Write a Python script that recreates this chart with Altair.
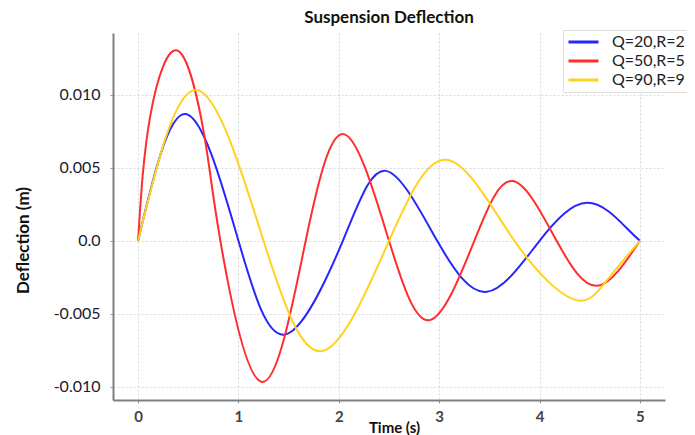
import altair as alt
import pandas as pd

title_text = "Suspension Deflection"
x_title = "Time (s)"
y_title = "Deflection (m)"
series_names = ["Q=20,R=2", "Q=50,R=5", "Q=90,R=9"]
series_colors = ["#2626ff", "#ff2d2d", "#ffd21e"]

blue_t = [0, 0.475, 1.0, 1.466, 2.04, 2.47, 2.98, 3.476, 4.0, 4.473, 4.855, 5.0]
blue_v = [0, 0.00868, 0, -0.00641, 0, 0.00479, 0, -0.00349, 0, 0.0026, 0.00096, 0]

red_t = [0, 0.12, 0.40, 0.66, 0.82, 1.233, 1.67, 2.057, 2.50, 2.905, 3.35, 3.735,
         4.17, 4.573, 5.0]
red_v = [0, 0.0085, 0.01300, 0.0072, 0, -0.00966, 0, 0.00729, 0, -0.00543, 0, 0.00409,
         0, -0.00308, 0]

yellow_t = [0, 0.585, 1.25, 1.838, 2.50, 3.088, 3.75, 4.34, 4.66, 5.0]
yellow_v = [0, 0.01032, 0, -0.00755, 0, 0.00553, 0, -0.00401, -0.0028, 0]

x_ticks = [0, 1, 2, 3, 4, 5]
y_ticks = [-0.010, -0.005, 0.0, 0.005, 0.010]

rows = []
for name, ts, vs in zip(series_names, [blue_t, red_t, yellow_t], [blue_v, red_v, yellow_v]):
    for t, v in zip(ts, vs):
        rows.append({"series": name, "t": t, "v": v})
df = pd.DataFrame(rows)

FONT = "Lato"

chart = alt.Chart(df).mark_line(
    interpolate="natural", strokeWidth=2
).encode(
    x=alt.X("t:Q", scale=alt.Scale(domain=[-0.25, 5.25], nice=False, zero=False),
            axis=alt.Axis(values=x_ticks, format="d", title=x_title,
                          titleX=281, titleY=27, titleBaseline="middle", titleAlign="center",
                          titleFontSize=15, titleFontWeight="bold", titleFont=FONT, titleColor="#111",
                          labelFont=FONT, labelFontSize=15, labelFontWeight="bold", labelColor="#444",
                          labelPadding=6, tickSize=3, tickColor="#999",
                          domainColor="#808080", domainWidth=2,
                          grid=True, gridColor="#d9d9d9", gridDash=[2, 2], gridWidth=1)),
    y=alt.Y("v:Q", scale=alt.Scale(domain=[-0.0109, 0.01423], nice=False, zero=False),
            axis=alt.Axis(values=y_ticks, title=y_title,
                          labelExpr="datum.value == 0 ? '0.0' : (datum.value < 0 ? '-' + format(-datum.value, '.3f') : format(datum.value, '.3f'))",
                          titleX=-90, titleY=207, titleAngle=-90, titleBaseline="middle", titleAlign="center",
                          titleFontSize=17, titleFontWeight="bold", titleFont=FONT, titleColor="#111",
                          labelFont=FONT, labelFontSize=16, labelColor="#1a1a2a",
                          labelPadding=10, tickSize=3, tickColor="#999",
                          domainColor="#808080", domainWidth=2,
                          grid=True, gridColor="#d9d9d9", gridDash=[2, 2], gridWidth=1)),
    color=alt.Color("series:N", scale=alt.Scale(domain=series_names, range=series_colors),
                    legend=alt.Legend(title=None, orient="none", legendX=450, legendY=-3,
                                      symbolType="stroke", symbolSize=900, symbolStrokeWidth=3,
                                      clipHeight=16,
                                      labelFont=FONT, labelFontSize=16, labelColor="#222",
                                      labelOffset=12, rowPadding=3, padding=4,
                                      strokeColor="#dddddd", fillColor="white")),
).properties(
    width=552, height=367,
    title=alt.TitleParams(title_text, font=FONT, fontSize=17, fontWeight="bold", color="#111",
                          anchor="middle", offset=3),
    autosize=alt.AutoSizeParams(type="none"),
    padding={"left": 105, "top": 25, "right": 22, "bottom": 35},
).configure_view(stroke=None)

chart.save("out.html", embed_options={"renderer": "svg", "actions": False})
